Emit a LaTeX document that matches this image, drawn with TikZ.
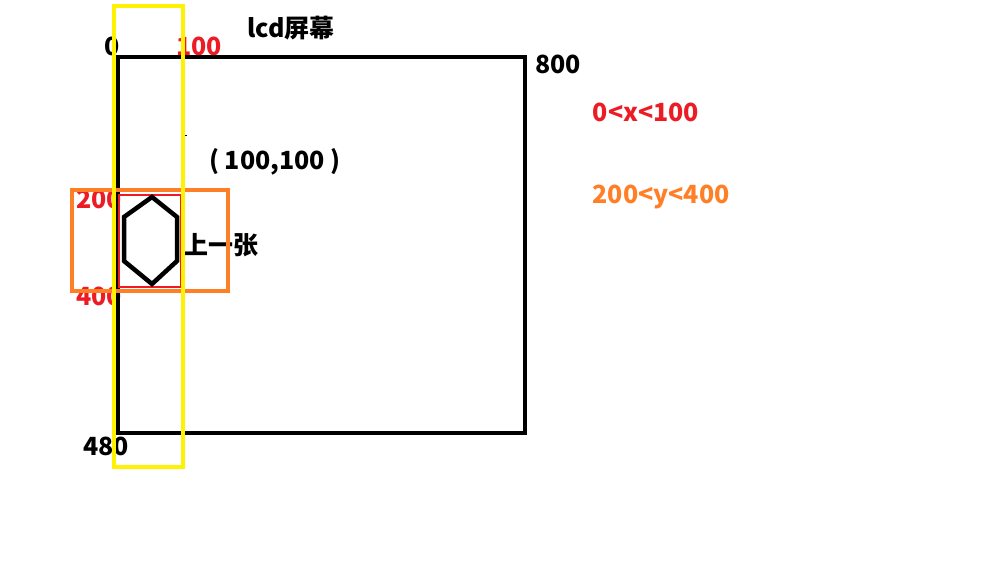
\documentclass[tikz,border=0pt]{standalone}
\usepackage{fontspec}
\setmainfont{Noto Sans CJK SC}
\definecolor{pred}{RGB}{237,28,36}
\definecolor{porange}{RGB}{255,127,39}
\definecolor{pyellow}{RGB}{255,242,0}
\tikzset{
  lbl/.style={font=\fontsize{25}{27}\selectfont\bfseries, inner sep=0pt},
  thick4/.style={line width=4pt},
}
\begin{document}
\begin{tikzpicture}[x=1pt,y=-1pt]
\useasboundingbox (0,0) rectangle (998,579);
\fill[white] (0,0) rectangle (998,579);
% texts
\node[lbl] (title) at (291,28) {lcd屏幕};
\node[lbl] (x0) at (112,46) {0};
\node[lbl,text=pred] (x100) at (199,46) {100};
\node[lbl] (x800) at (558,64) {800};
\node[lbl] (pt) at (275,162) {( 100,100 )};
\node[lbl,text=pred] (y200) at (99,199) {200};
\node[lbl,text=pred] (y400) at (99,296) {400};
\node[lbl] (y480) at (106,446) {480};
\node[lbl,text=pred] (cx) at (646,112) {0<x<100};
\node[lbl,text=porange] (cy) at (661,197) {200<y<400};
\node[lbl] (prev) at (221,245) {上一张};
% screen
\draw[thick4] (118,57) rectangle (525,433);
\draw[line width=1pt] (184,135) -- (187,135);
% red button area
\draw[pred,line width=2pt] (119,195) rectangle (181,287);
% hexagon
\draw[line width=4.5pt,line join=miter] (152,197) -- (177,217) -- (177,261) -- (152,284) -- (124,261) -- (124,217) -- cycle;
% orange range
\draw[porange,thick4] (72,190) rectangle (228,291);
% yellow range
\draw[pyellow,thick4] (114,6) rectangle (183,467);
\end{tikzpicture}
\end{document}
